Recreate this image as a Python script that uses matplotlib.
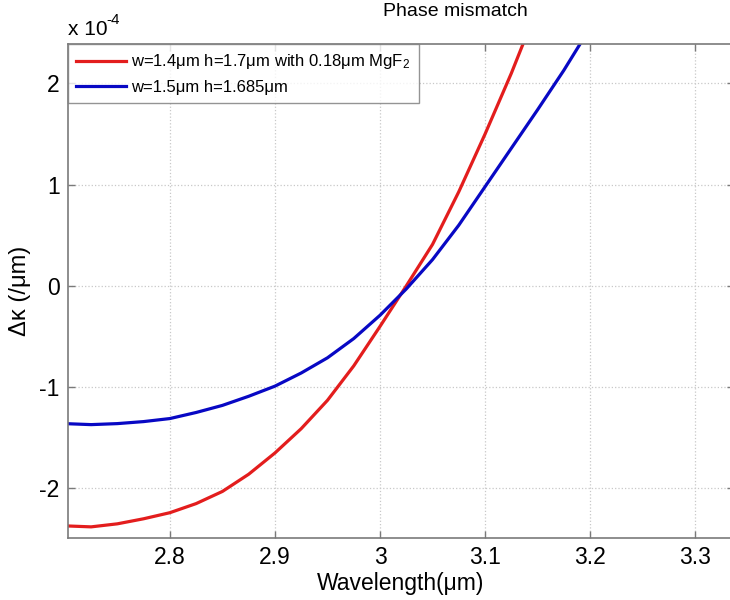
import matplotlib
matplotlib.use("Agg")
import matplotlib.pyplot as plt

plt.rcParams['font.family'] = ['Liberation Sans', 'DejaVu Sans']
plt.rcParams['mathtext.fontset'] = 'custom'
plt.rcParams['mathtext.rm'] = 'Liberation Sans'
plt.rcParams['mathtext.it'] = 'Liberation Sans:italic'

# wavelength (um) and phase mismatch (units of 1e-4 /um)
wl_red = [2.700, 2.725, 2.750, 2.775, 2.800, 2.825, 2.850, 2.875, 2.900, 2.925,
          2.950, 2.975, 3.000, 3.025, 3.050, 3.075, 3.100, 3.125, 3.150]
dk_red = [-2.37, -2.38, -2.35, -2.30, -2.24, -2.15, -2.03, -1.86, -1.65, -1.41,
          -1.13, -0.79, -0.40, 0.00, 0.41, 0.93, 1.50, 2.10, 2.75]

wl_blue = [2.700, 2.725, 2.750, 2.775, 2.800, 2.825, 2.850, 2.875, 2.900, 2.925,
           2.950, 2.975, 3.000, 3.025, 3.050, 3.075, 3.100, 3.125, 3.150, 3.175, 3.200]
dk_blue = [-1.36, -1.37, -1.36, -1.34, -1.31, -1.25, -1.18, -1.09, -0.99, -0.86,
           -0.71, -0.52, -0.29, -0.03, 0.26, 0.60, 0.98, 1.36, 1.74, 2.13, 2.55]

label_red = r'w=1.4μm h=1.7μm with 0.18μm MgF$_2$'
label_blue = 'w=1.5μm h=1.685μm'

x_ticks = [2.8, 2.9, 3.0, 3.1, 3.2, 3.3]
x_tick_labels = ['2.8', '2.9', '3', '3.1', '3.2', '3.3']
y_ticks = [-2, -1, 0, 1, 2]
y_tick_labels = ['-2', '-1', '0', '1', '2']

fig = plt.figure(figsize=(7.3, 6), dpi=100)
# axes runs past the right edge of the picture (cropped in the original)
ax = fig.add_axes([68 / 730, 1 - 538 / 600, 666 / 730, (538 - 44) / 600])

ax.plot(wl_red, dk_red, color='#e31d1d', lw=2.3, label=label_red)
ax.plot(wl_blue, dk_blue, color='#0808c4', lw=2.3, label=label_blue)

ax.set_xlim(2.703, 3.337)
ax.set_ylim(-2.49, 2.39)
ax.set_xticks(x_ticks)
ax.set_xticklabels(x_tick_labels)
ax.set_yticks(y_ticks)
ax.set_yticklabels(y_tick_labels)

ax.grid(True, color='#c8c8c8', linestyle=':', linewidth=0.9)
for s in ax.spines.values():
    s.set_color('#7a7a7a')
    s.set_linewidth(1.2)
ax.tick_params(direction='in', length=5, width=1, colors='#7a7a7a',
               labelcolor='black', labelsize=16.5, top=True, right=True, pad=6)

ax.set_xlabel('Wavelength(μm)', fontsize=16.5, labelpad=2)
ax.set_ylabel('Δκ (/μm)', fontsize=17, labelpad=6)

# title sits centred on the full (uncropped) axes
fig.text(455 / 730, 1 - 12 / 600, 'Phase mismatch', fontsize=14,
         ha='center', va='center')
fig.text(68 / 730, 1 - 35 / 600, 'x 10', fontsize=15, ha='left', va='baseline')
fig.text(106 / 730, 1 - 24 / 600, '-4', fontsize=11, ha='left', va='baseline')

leg = ax.legend(loc='upper left', bbox_to_anchor=(0, 1), borderaxespad=0,
                fontsize=12, frameon=True, fancybox=False, handlelength=3.0,
                handletextpad=0.3, borderpad=0.5, labelspacing=0.5)
leg.get_frame().set_edgecolor('#7a7a7a')
leg.get_frame().set_linewidth(1.0)

fig.savefig('out.png', dpi=100)
